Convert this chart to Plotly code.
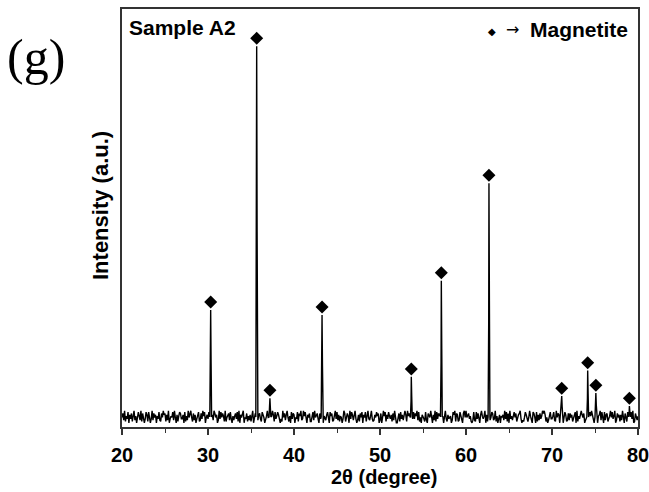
import numpy as np
import plotly.graph_objects as go

# ---- data ----
# background noise level, 20.0..80.0 deg in 0.1 deg steps, one digit per step (0-9 level)
baseline_digits = (
    "47291538063714925068529174038618503927460538217496"
    "71629035482940615873360815294794172603581273958046"
    "38510629746029384751914672830525738190648904371526"
    "15904738267318640259402759618358620319472694150837"
    "60438175923958206471168294573073190542684085712693"
    "82615403971475093862593026174806481793259312648570"
    "27049581638536172940047183625961957420383759281406"
    "53182076494062918375782504931634502869176128530794"
    "94673510282183740695359061782487239150460546293817"
    "09352684715679302148621495308740816273597961402583"
    "35821947609350486127274613580915389647024217859630"
    "71405692830826713594835902746162940731855683901742"
    "5"
)
baseline_start = 20.0
baseline_step = 0.1
baseline_floor = 10.0   # a.u. at level 0
baseline_unit = 3.2     # a.u. per level

# magnetite reflections: position (2theta) and peak intensity (a.u.)
peak_2theta = [30.31, 35.66, 37.20, 43.26, 53.64, 57.13, 62.67, 71.13, 74.15, 75.10, 79.00]
peak_intensity = [280, 911, 69, 268, 120, 350, 583, 74, 135, 81, 50]

x_ticks = [20, 30, 40, 50, 60, 70, 80]

# ---- build pattern ----
levels = np.array([int(ch) for ch in baseline_digits], dtype=float)
bx = baseline_start + baseline_step * np.arange(len(levels))
by = baseline_floor + baseline_unit * levels

pts = []
for x, y in zip(bx, by):
    if all(abs(x - c) > 0.12 for c in peak_2theta):
        pts.append((x, y))
for c, h in zip(peak_2theta, peak_intensity):
    b = 24
    pts += [(c - 0.10, b), (c - 0.03, b + 0.4 * (h - b)), (c, h),
            (c + 0.05, b + 0.5 * (h - b)), (c + 0.11, b)]
pts.sort()
px = [p[0] for p in pts]
py = [p[1] for p in pts]

fig = go.Figure()
fig.add_trace(go.Scatter(x=px, y=py, mode="lines",
                         line=dict(color="black", width=1.4), hoverinfo="skip"))
fig.add_trace(go.Scatter(x=peak_2theta, y=[h + 19 for h in peak_intensity],
                         mode="markers",
                         marker=dict(symbol="diamond", size=10, color="black"),
                         hoverinfo="skip"))

axis_color = "#333333"
fig.update_layout(
    width=649, height=492,
    margin=dict(l=122, r=11, t=9, b=65),
    paper_bgcolor="white", plot_bgcolor="white",
    showlegend=False,
    font=dict(family="Liberation Sans, Arial, sans-serif", color="black"),
    xaxis=dict(
        range=[20, 80], tickvals=x_ticks, ticktext=[f"<b>{t}</b>" for t in x_ticks],
        ticks="outside", ticklen=6, tickwidth=1.5, tickcolor=axis_color,
        minor=dict(ticks="outside", ticklen=4, dtick=5, tickcolor=axis_color, tickwidth=1.2),
        showline=True, linecolor=axis_color, linewidth=1.5, mirror=True,
        showgrid=False, zeroline=False, automargin=False,
        tickfont=dict(size=20), ticklabelstandoff=3, ticklabeloverflow="allow",
    ),
    yaxis=dict(
        range=[0, 1000], showticklabels=False, ticks="",
        showline=True, linecolor=axis_color, linewidth=1.5, mirror=True,
        showgrid=False, zeroline=False, automargin=False,
    ),
    annotations=[
        dict(text="<b>2θ (degree)</b>", x=(384 - 122) / 516, y=(427 - 477) / 418,
             xref="paper", yref="paper", showarrow=False, font=dict(size=20),
             xanchor="center", yanchor="middle"),
        dict(text="<b>Intensity (a.u.)</b>", textangle=-90, x=(101 - 122) / 516, y=(427 - 206) / 418,
             xref="paper", yref="paper", showarrow=False, font=dict(size=22),
             xanchor="center", yanchor="middle"),
        dict(text="(g)", x=(36 - 122) / 516, y=(427 - 57) / 418, xref="paper", yref="paper",
             showarrow=False, font=dict(size=50, family="Liberation Serif, Times New Roman, serif"),
             xanchor="center", yanchor="middle"),
        dict(text="<b>Sample A2</b>", x=(127 - 122) / 516, y=(427 - 27) / 418, xref="paper", yref="paper",
             showarrow=False, font=dict(size=21), xanchor="left", yanchor="middle"),
        dict(text="<b>Magnetite</b>", x=(630 - 122) / 516, y=(427 - 29) / 418, xref="paper", yref="paper",
             showarrow=False, font=dict(size=21), xanchor="right", yanchor="middle"),
        dict(text="→", x=(512 - 122) / 516, y=(427 - 30) / 418, xref="paper", yref="paper",
             showarrow=False, font=dict(size=16, family="DejaVu Sans"), xanchor="center", yanchor="middle"),
        dict(text="◆", x=(492 - 122) / 516, y=(427 - 31) / 418, xref="paper", yref="paper",
             showarrow=False, font=dict(size=10, family="DejaVu Sans"), xanchor="center", yanchor="middle"),
    ],
)

fig.write_html("out.html")
